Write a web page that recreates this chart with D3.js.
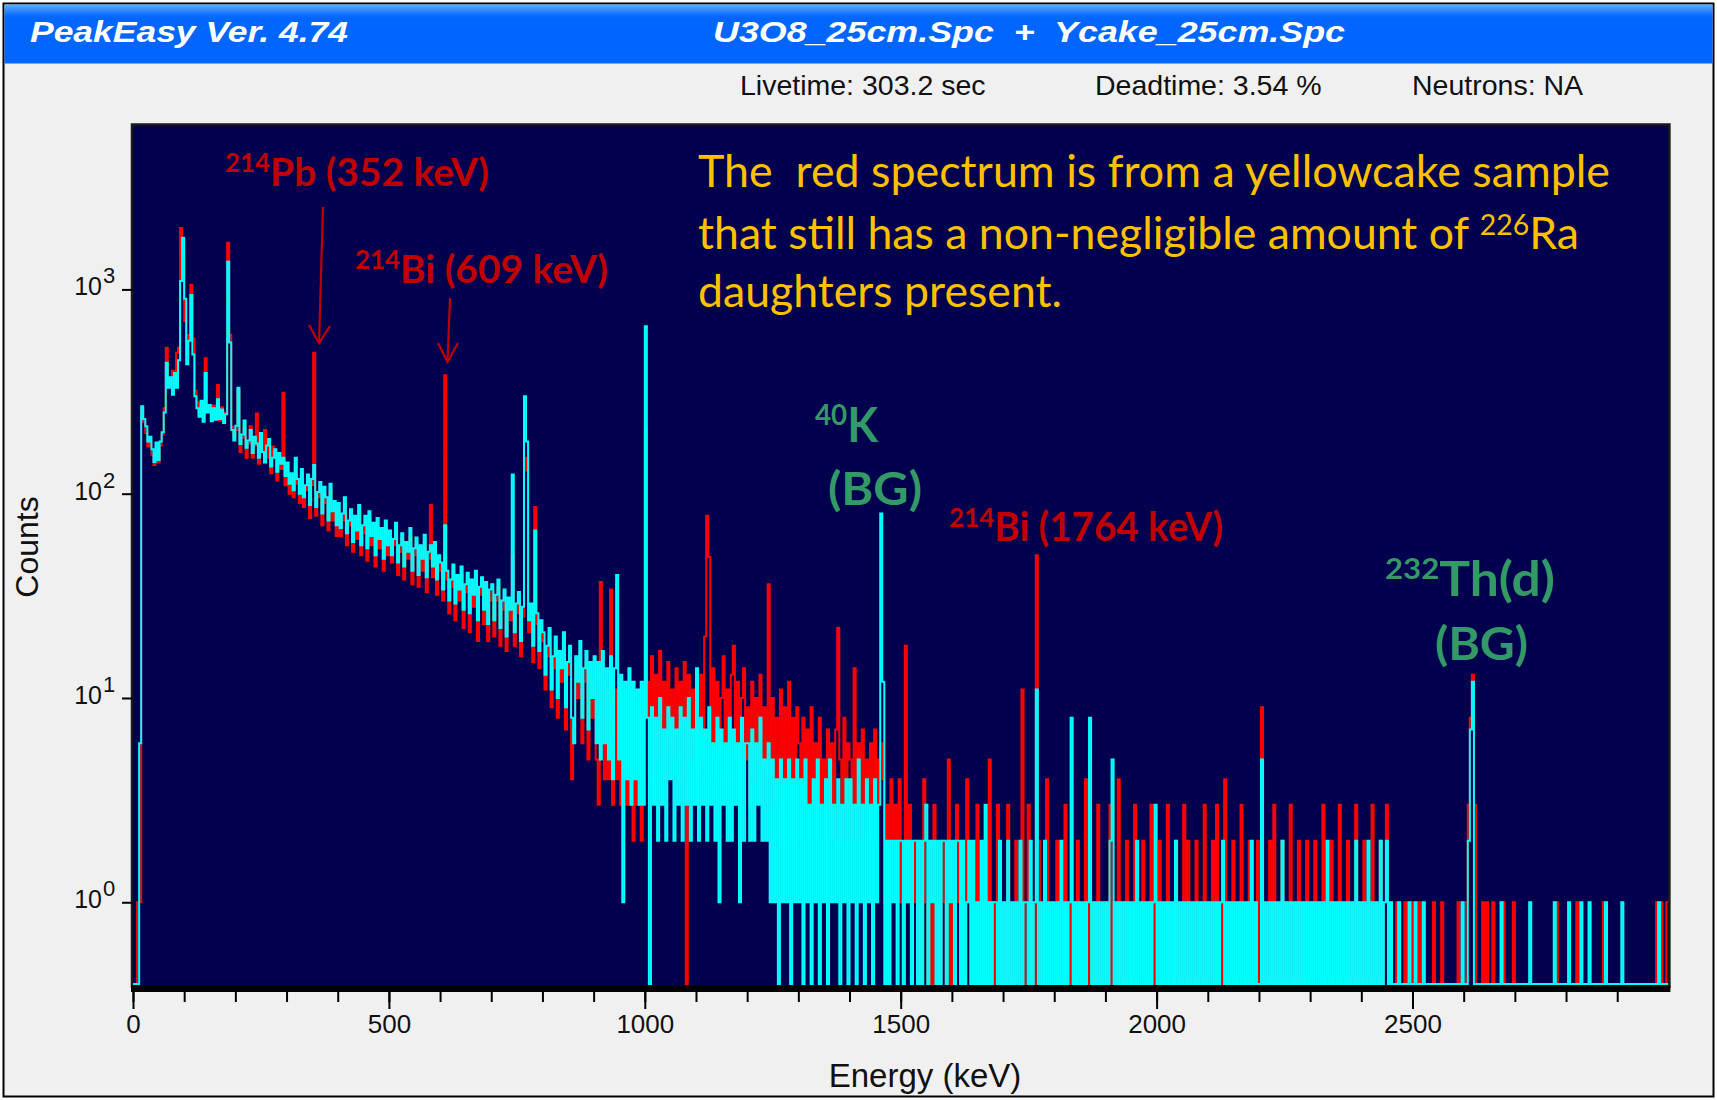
<!DOCTYPE html>
<html>
<head>
<meta charset="utf-8">
<script src="https://cdn.jsdelivr.net/npm/d3@7"></script>
<style>
  body { margin: 0; background: #fff; }
  svg { display: block; }
</style>
</head>
<body>
<div id="chart"></div>
<script>
// channel width of the spectra below, keV
const binWidth = 4;

// U3O8 spectrum (cyan), counts per channel, one line = 100 keV
const u3o8Counts = [
  0,0,0,6,268,232,214,180,190,165,143,178,146,180,200,250,437,330,372,305,390,330,450,1100,1790,
  900,430,560,940,480,300,262,238,285,225,390,250,272,226,262,230,290,232,258,222,245,1366,550,205,182,
  215,330,175,195,228,168,182,205,158,190,176,150,198,160,142,172,185,136,150,165,128,158,140,150,122,
  142,112,126,104,150,118,100,132,96,110,124,88,118,138,86,102,114,80,108,96,74,112,82,92,70,
  90,68,80,96,64,74,84,58,78,66,88,56,70,78,54,82,62,72,50,76,60,68,48,74,56,
  66,50,60,72,46,56,64,44,58,52,68,42,54,61,40,56,48,63,39,52,56,44,58,38,50,
  46,34,70,42,30,38,45,29,40,34,44,27,36,41,26,38,32,42,24,35,39,27,37,23,34,
  36,24,32,38,22,30,34,20,31,27,124,21,29,33,19,28,300,180,24,29,18,66,26,17,24,
  21,13,18,22,11,16,20,10,17,14,21,9,15,18,8,6,16,12,19,8,14,17,7,15,10,
  16,6,15,5,17,6,14,5,16,4,14,40,5,13,1,12,4,14,3,12,4,11,3,12,3,
  660,8,0,9,3,8,2,10,3,7,2,9,4,8,2,7,3,9,2,8,3,10,2,7,3,
  14,2,8,3,7,2,9,3,6,2,8,1,7,3,6,2,8,2,7,3,6,1,8,2,6,
  6,2,7,2,6,3,8,2,5,2,6,1,5,1,4,0,5,1,4,1,5,0,4,1,5,
  1,4,0,5,1,3,0,4,1,5,0,3,1,4,0,5,1,3,1,4,0,3,1,4,0,
  4,1,3,0,5,1,3,0,4,1,3,0,4,1,3,80,12,0,2,0,2,1,2,0,2,
  2,0,2,1,2,0,2,2,0,2,0,2,3,0,2,1,2,0,2,0,2,2,0,2,1,
  2,0,2,2,0,2,0,1,2,0,2,0,1,0,2,0,3,0,1,0,1,1,0,2,0,
  1,0,2,0,1,0,1,0,2,0,1,1,0,2,0,1,11,0,1,0,2,0,1,0,1,
  0,1,0,2,0,1,0,1,8,0,1,0,1,0,1,0,1,8,0,1,0,1,0,1,0,
  1,0,2,5,0,1,0,1,0,1,0,1,0,1,0,2,0,1,0,1,0,1,0,1,3,
  0,1,0,1,0,1,0,1,0,2,0,1,0,1,0,1,0,1,0,1,0,1,0,1,0,
  1,0,1,0,1,0,1,2,0,1,0,1,0,1,0,1,0,1,0,1,0,2,0,1,0,
  0,5,0,1,0,1,0,1,0,1,0,2,0,1,0,1,0,1,0,1,0,1,0,1,0,
  1,0,1,0,1,0,1,0,2,0,1,0,1,0,1,0,1,0,1,0,1,0,2,0,1,
  0,1,0,2,0,1,0,1,0,2,0,1,2,0,1,0,0,0,1,0,0,0,0,1,0,
  0,1,0,0,0,1,0,0,0,0,0,0,0,0,0,0,0,0,0,0,0,0,0,0,1,
  0,0,2,7,12,0,0,0,0,0,0,0,0,0,0,0,0,0,1,0,0,0,0,0,0,
  0,0,0,0,0,0,0,1,0,0,0,0,0,0,0,0,0,0,0,1,0,0,0,0,0,
  0,1,0,0,0,0,0,1,0,0,0,1,0,0,0,0,0,0,0,1,0,0,0,0,0,
  0,0,1,0,0,0,0,0,0,0,0,0,0,0,0,0,0,0,0,0,1,0,0,0,0
];

// Yellowcake spectrum (red), counts per channel, one line = 100 keV
const ycakeCounts = [
  0,0,1,1,258,225,198,170,180,155,138,168,142,172,195,262,516,360,350,400,340,490,520,2000,1500,
  700,480,600,1050,575,320,280,250,276,240,460,255,262,235,270,238,340,228,265,230,250,1690,600,212,190,
  205,320,160,188,210,150,176,214,150,172,247,140,180,162,205,150,170,126,170,152,116,146,132,312,110,
  130,100,120,96,136,112,90,126,86,104,120,76,110,490,78,96,108,70,100,90,66,104,74,88,62,
  84,62,74,90,56,70,80,52,74,60,82,50,64,72,47,76,56,68,44,70,54,62,42,70,50,
  60,46,56,68,40,52,60,38,54,48,62,36,50,57,35,52,42,58,33,48,88,39,53,32,46,
  42,30,380,38,26,35,42,24,37,30,40,22,33,38,21,35,28,39,19,32,36,23,34,19,30,
  33,20,30,35,18,27,31,17,28,24,50,18,26,30,16,25,150,130,21,26,15,86,23,14,21,
  19,11,16,20,9,14,18,8,15,12,19,7,13,16,4,7,14,10,17,6,12,15,5,13,8,
  12,5,3,37,13,4,11,4,34,3,11,4,12,3,10,3,11,3,12,2,10,3,11,2,9,
  205,12,4,16,6,13,5,17,7,12,4,15,6,11,5,14,7,12,4,15,0,13,5,11,6,
  10,4,13,5,20,78,49,6,14,4,12,5,10,16,4,11,6,13,18,5,12,3,10,14,5,
  9,3,12,4,10,5,13,3,9,4,36,5,10,3,8,4,11,2,9,3,12,2,8,4,9,
  6,2,8,3,7,2,9,3,6,2,8,3,5,2,7,3,6,2,7,22,5,2,8,3,6,
  5,2,14,3,6,2,7,3,5,2,6,2,7,3,5,6,4,1,3,1,4,2,3,1,4,
  1,0,18,1,3,0,1,2,0,1,0,4,1,0,2,0,3,0,1,0,2,1,0,5,0,
  1,0,3,1,0,2,0,4,1,0,1,0,3,0,1,0,2,0,5,0,1,0,3,1,0,
  1,0,3,0,1,0,2,0,1,11,0,1,3,0,1,0,50,2,0,1,0,4,0,1,0,
  0,2,0,1,0,3,0,1,0,1,0,2,0,1,0,4,0,5,0,1,0,3,0,1,0,
  1,0,3,0,1,0,4,0,1,0,2,0,1,0,3,0,1,0,2,0,1,0,3,0,1,
  0,2,0,1,0,3,0,1,0,2,0,1,0,3,0,2,0,1,0,2,0,1,0,3,0,
  1,0,2,0,3,0,1,0,4,0,1,0,2,0,1,0,3,0,1,0,2,0,1,0,2,
  0,9,0,1,0,2,0,3,0,1,0,2,0,1,0,3,0,1,0,2,0,1,0,2,0,
  1,0,2,0,1,0,3,0,1,0,2,0,1,0,3,0,1,0,2,0,1,0,3,0,1,
  0,2,0,1,0,3,0,1,0,2,0,1,3,0,1,0,0,1,0,0,0,1,0,0,1,
  0,0,0,1,0,0,0,0,0,0,1,0,0,0,1,0,0,0,0,0,0,0,1,0,0,
  0,1,3,8,13,3,0,0,0,1,0,1,0,0,1,0,0,0,0,1,0,0,0,0,1,
  0,0,0,0,0,0,0,0,0,0,0,0,0,0,0,0,0,0,0,0,1,0,0,0,0,
  0,0,0,0,0,1,0,0,0,0,0,0,0,0,0,0,0,0,1,0,0,0,0,0,0,
  0,0,0,0,0,0,0,0,0,0,0,0,0,0,0,0,0,0,0,1,0,1,0,0,1
];

const majorTicks = [0, 500, 1000, 1500, 2000, 2500];
const minorTicks = d3.range(0, 3000, 100);
const decadeTicks = [1, 10, 100, 1000];

const W = 1717, H = 1100;
const plot = { left: 133, right: 1668.4, top: 125, base: 984 };

const svg = d3.select("#chart").append("svg")
  .attr("width", W).attr("height", H)
  .attr("font-family", "'Liberation Sans', Arial, sans-serif");

const defs = svg.append("defs");
const grad = defs.append("linearGradient").attr("id", "bar").attr("x1", 0).attr("y1", 0).attr("x2", 0).attr("y2", 1);
grad.append("stop").attr("offset", "0%").attr("stop-color", "#5aaeff");
grad.append("stop").attr("offset", "19%").attr("stop-color", "#0a6cff");
grad.append("stop").attr("offset", "24%").attr("stop-color", "#0066ff");
grad.append("stop").attr("offset", "100%").attr("stop-color", "#0066ff");
defs.append("clipPath").attr("id", "plotclip").append("rect")
  .attr("x", plot.left).attr("y", plot.top)
  .attr("width", plot.right - plot.left).attr("height", plot.base - plot.top + 1);

// window panel and title bar
svg.append("rect").attr("x", 3.5).attr("y", 3.5).attr("width", W - 7).attr("height", H - 7)
  .attr("fill", "#f0f0f0").attr("stroke", "#000").attr("stroke-width", 2);
svg.append("rect").attr("x", 4.5).attr("y", 4.5).attr("width", W - 9).attr("height", 59)
  .attr("fill", "url(#bar)");

svg.append("text").attr("x", 30).attr("y", 42)
  .attr("font-size", 29).attr("font-weight", "bold").attr("font-style", "italic").attr("fill", "#fff")
  .attr("textLength", 318).attr("lengthAdjust", "spacingAndGlyphs")
  .text("PeakEasy Ver. 4.74");
svg.append("text").attr("x", 713).attr("y", 42)
  .attr("xml:space", "preserve").style("white-space", "pre")
  .attr("font-size", 29).attr("font-weight", "bold").attr("font-style", "italic").attr("fill", "#fff")
  .attr("textLength", 632).attr("lengthAdjust", "spacingAndGlyphs")
  .text("U3O8_25cm.Spc  +  Ycake_25cm.Spc");

const info = svg.append("g").attr("font-size", 28.5).attr("fill", "#111");
info.append("text").attr("x", 740).attr("y", 95).text("Livetime: 303.2 sec");
info.append("text").attr("x", 1095).attr("y", 95).text("Deadtime: 3.54 %");
info.append("text").attr("x", 1412).attr("y", 95).text("Neutrons: NA");

// scales
const x = d3.scaleLinear().domain([0, 3000]).range([plot.left, plot.right]);
const yFloor = 0.398;
const y = d3.scaleLog().domain([yFloor, 6380]).range([plot.base, plot.top]);

// plot area
svg.append("rect").attr("x", plot.left - 1).attr("y", plot.top - 0.5)
  .attr("width", plot.right - plot.left + 2).attr("height", plot.base - plot.top + 3)
  .attr("fill", "#00004e").attr("stroke", "#1a1a1a").attr("stroke-width", 2.5);

// histogram steps, one step per channel
const toPoints = counts => {
  const pts = counts.map((c, i) => ({ e: i * binWidth, c: c }));
  pts.push({ e: counts.length * binWidth, c: counts[counts.length - 1] });
  return pts;
};
const spectrum = d3.line()
  .x(d => x(d.e))
  .y(d => y(Math.max(d.c, yFloor)))
  .curve(d3.curveStepAfter);

const specG = svg.append("g").attr("clip-path", "url(#plotclip)");
specG.append("path").datum(toPoints(ycakeCounts))
  .attr("fill", "none").attr("stroke", "#ff0000").attr("stroke-width", 2)
  .attr("d", spectrum);
specG.append("path").datum(toPoints(u3o8Counts))
  .attr("fill", "none").attr("stroke", "#00ffff").attr("stroke-width", 2)
  .attr("d", spectrum);

// heavy bottom edge of the plot frame
svg.append("rect").attr("x", plot.left - 2).attr("y", 985.5)
  .attr("width", plot.right - plot.left + 4).attr("height", 6.5).attr("fill", "#000");

// axes
const axisY = 992;
const styleAxis = g => {
  g.select(".domain").remove();
  g.selectAll(".tick line").attr("stroke", "#000").attr("stroke-width", 2);
  g.attr("font-family", null).attr("font-size", null);
};
svg.append("g").attr("transform", `translate(0,${axisY})`)
  .call(d3.axisBottom(x).tickValues(minorTicks).tickSize(10).tickFormat(""))
  .call(styleAxis);
svg.append("g").attr("transform", `translate(0,${axisY})`)
  .call(d3.axisBottom(x).tickValues(majorTicks).tickSize(17).tickPadding(6).tickFormat(d3.format("d")))
  .call(styleAxis)
  .call(g => g.selectAll("text").attr("font-size", 26).attr("fill", "#111"));

svg.append("g").attr("transform", `translate(${plot.left},0)`)
  .call(d3.axisLeft(y).tickValues(decadeTicks).tickSize(11).tickFormat(""))
  .call(styleAxis);

const yLab = svg.append("g").attr("fill", "#111");
decadeTicks.forEach(d => {
  yLab.append("text").attr("x", 102).attr("y", y(d) + 6).attr("text-anchor", "end")
    .attr("font-size", 25).text("10");
  yLab.append("text").attr("x", 103).attr("y", y(d) - 6)
    .attr("font-size", 22).text(Math.round(Math.log10(d)));
});

svg.append("text").attr("transform", "translate(38,547) rotate(-90)")
  .attr("text-anchor", "middle").attr("font-size", 32).attr("fill", "#111").text("Counts");
svg.append("text").attr("x", 925).attr("y", 1087)
  .attr("text-anchor", "middle").attr("font-size", 33).attr("fill", "#111").text("Energy (keV)");

// annotations
const ann = svg.append("g").attr("font-family", "Lato, 'Noto Sans', sans-serif").attr("font-weight", "bold");
const supLabel = (xp, yp, sup, main, size, supSize, color, len) => {
  const t = ann.append("text").attr("x", xp).attr("y", yp).attr("fill", color).attr("font-size", size);
  t.append("tspan").attr("font-size", supSize).attr("dy", -size * 0.36).text(sup);
  t.append("tspan").attr("dy", size * 0.36).text(main);
  if (len) t.attr("textLength", len).attr("lengthAdjust", "spacingAndGlyphs");
  return t;
};
const plainLabel = (xp, yp, str, size, color, len) => {
  const t = ann.append("text").attr("x", xp).attr("y", yp).attr("fill", color).attr("font-size", size).text(str);
  if (len) t.attr("textLength", len).attr("lengthAdjust", "spacingAndGlyphs");
  return t;
};
const darkRed = "#c00000", green = "#339966";

supLabel(225, 186, "214", "Pb (352 keV)", 39, 26, darkRed, 264);
supLabel(355, 283, "214", "Bi (609 keV)", 39, 26, darkRed, 253);
supLabel(949, 541, "214", "Bi (1764 keV)", 40, 27, darkRed, 274);
supLabel(815, 442, "40", "K", 47, 29, green, 63);
plainLabel(828, 505, "(BG)", 46, green, 94);
supLabel(1385, 596, "232", "Th(d)", 48, 29, green, 170);
plainLabel(1435, 660, "(BG)", 46, green, 93);

const arrows = ann.append("g").attr("stroke", darkRed).attr("stroke-width", 2.2).attr("fill", "none");
arrows.append("line").attr("x1", 323).attr("y1", 207).attr("x2", 319).attr("y2", 343);
arrows.append("polyline").attr("points", "309,325 319,343 330,326");
arrows.append("line").attr("x1", 450).attr("y1", 298).attr("x2", 447.5).attr("y2", 362);
arrows.append("polyline").attr("points", "438,343 447.5,362 458,343");

const note = svg.append("g").attr("font-family", "Lato, 'Noto Sans', sans-serif")
  .attr("fill", "#ffc000").attr("font-size", 44);
note.append("text").attr("x", 698).attr("y", 187)
  .attr("xml:space", "preserve").style("white-space", "pre")
  .attr("textLength", 912).attr("lengthAdjust", "spacingAndGlyphs")
  .text("The  red spectrum is from a yellowcake sample");
const l2 = note.append("text").attr("x", 698).attr("y", 249)
  .attr("textLength", 881).attr("lengthAdjust", "spacingAndGlyphs");
l2.append("tspan").text("that still has a non-negligible amount of ");
l2.append("tspan").attr("font-size", 28).attr("dy", -14).text("226");
l2.append("tspan").attr("dy", 14).text("Ra");
note.append("text").attr("x", 698).attr("y", 307)
  .attr("textLength", 364).attr("lengthAdjust", "spacingAndGlyphs")
  .text("daughters present.");
</script>
</body>
</html>
